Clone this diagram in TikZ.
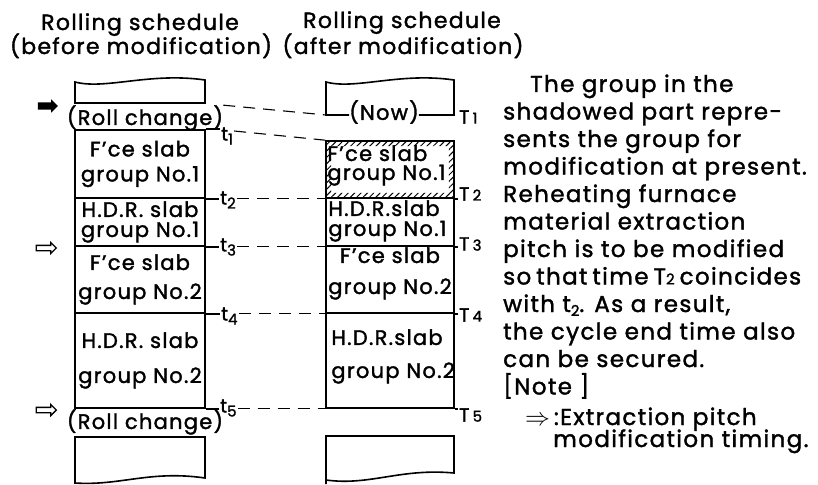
\documentclass[tikz,border=0pt]{standalone}
\usepackage{fontspec}
\setmainfont{Poppins}[LetterSpace=6,FakeBold=1.6]
\usepackage{tikz}
\usetikzlibrary{arrows.meta,positioning,calc,shapes.arrows,patterns.meta,backgrounds}

\newcommand{\headfont}{\fontsize{22}{26}\selectfont}
\newcommand{\slabfont}[1]{\fontsize{21}{#1}\selectfont}
\newcommand{\notefont}{\fontsize{23}{27}\selectfont}
\newcommand{\Tsub}[1]{{\fontsize{15}{15}\selectfont #1}}
\newcommand{\tsub}[1]{\raisebox{-4pt}{\fontsize{15}{15}\selectfont #1}}

\begin{document}
\begin{tikzpicture}[x=1pt,y=-1pt,>=Latex,
  box/.style={draw,line width=1.6pt},
  slabrow/.style={box,minimum width=130pt,inner sep=0pt},
  slabtxt/.style={align=center,inner sep=0pt,font=\slabfont{#1}},
  tlab/.style={anchor=west,inner sep=1pt,font=\fontsize{19}{19}\selectfont},
  link/.style={dash pattern=on 12pt off 8pt,line width=1.1pt},
  bodytxt/.style={anchor=base west,inner sep=0pt,font=\notefont},
  modarrow/.style={single arrow,minimum height=20pt,minimum width=0pt,
    single arrow head extend=3pt,inner xsep=0pt,inner ysep=3pt,line width=1.3pt}]
  \useasboundingbox (0,0) rectangle (818,484);

  % headings
  \node[font=\headfont,anchor=base] (headL1) at (140,30) {Rolling schedule};
  \node[font=\headfont,anchor=base] (headL2) at (141,54) {(before modification)};
  \node[font=\headfont,anchor=base] (headR1) at (402,28) {Rolling schedule};
  \node[font=\headfont,anchor=base] (headR2) at (403,54) {(after modification)};

  % schedule before modification
  \draw[box] (75,103) -- (75,82) .. controls (105,90) and (150,72) .. (205,80)
    -- (205,103) -- cycle;
  \node[font=\slabfont{22},inner sep=0pt] (rcA) at (145,118) {(Roll change)};
  \node[slabrow,minimum height=68pt] (f1L) at (140,164) {};
  \node[slabrow,minimum height=48pt] (h1L) at (140,222) {};
  \node[slabrow,minimum height=67pt] (f2L) at (140,279.5) {};
  \node[slabrow,minimum height=95pt] (h2L) at (140,360.5) {};
  \node[slabtxt=25] (f1Lt) at (f1L) {F’ce slab\\group No.1};
  \node[slabtxt=20] (h1Lt) at (h1L) {H.D.R. slab\\group No.1};
  \node[slabtxt=29] (f2Lt) at (f2L) {F’ce slab\\group No.2};
  \node[slabtxt=35] (h2Lt) at (h2L) {H.D.R. slab\\group No.2};
  \node[font=\slabfont{22},inner sep=0pt] (rcB) at (145,422) {(Roll change)};
  \draw[box] (75,437) -- (205,437) -- (205,478)
    .. controls (150,470) and (120,486) .. (75,483) -- cycle;

  % schedule after modification
  \coordinate (nowSW) at (326,115);
  \coordinate (nowSE) at (454,115);
  \node[font=\slabfont{20},inner sep=0pt] (now) at (384,112) {(Now)};
  \draw[box] (now.west |- nowSW) -- (nowSW) -- (326,82)
    .. controls (355,90) and (400,72) .. (454,80) -- (nowSE) -- (now.east |- nowSE);
  \node[slabrow,minimum width=128pt,minimum height=57pt] (f1R) at (390,169.5) {};
  \node[slabrow,minimum width=128pt,minimum height=48pt] (h1R) at (390,222) {};
  \node[slabrow,minimum width=128pt,minimum height=67pt] (f2R) at (390,279.5) {};
  \node[slabrow,minimum width=128pt,minimum height=95pt] (h2R) at (390,360.5) {};
  \begin{scope}[on background layer]
    \fill[pattern={Lines[angle=45,distance=4.5pt,line width=1pt]},even odd rule]
      (f1R.south west) rectangle (f1R.north east)
      ([shift={(6,-6)}]f1R.south west) rectangle ([shift={(-6,6)}]f1R.north east);
  \end{scope}
  \node[slabtxt=19,align=left,anchor=west] (f1Rt) at ([xshift=2pt,yshift=4pt]f1R.west) {F’ce slab\\group No.1};
  \node[slabtxt=20,align=left,anchor=west] (h1Rt) at ([xshift=3pt,yshift=1pt]h1R.west) {H.D.R.slab\\group No.1};
  \node[slabtxt=31] (f2Rt) at ([yshift=6pt]f2R.center) {F’ce slab\\group No.2};
  \node[slabtxt=33,align=left,anchor=west] (h2Rt) at ([xshift=6pt,yshift=4pt]h2R.west) {H.D.R.slab\\group No.2};
  \draw[box] (326,484) -- (326,436) -- (454,436) -- (454,473)
    .. controls (400,468) and (370,486) .. (326,480);

  % time marks
  \node[tlab] (t1) at (220,136) {t\tsub{1}};
  \node[tlab] (t2) at (219,200) {t\tsub{2}};
  \node[tlab] (t3) at (219,247) {t\tsub{3}};
  \node[tlab] (t4) at (220,316) {t\tsub{4}};
  \node[tlab] (t5) at (219,408) {t\tsub{5}};
  \node[tlab] (T1) at (458,117) {T\,\Tsub{1}};
  \node[tlab] (T2) at (458,194) {T\,\Tsub{2}};
  \node[tlab] (T3) at (458,244) {T\,\Tsub{3}};
  \node[tlab] (T4) at (458,315) {T\,\Tsub{4}};
  \node[tlab] (T5) at (458,415) {T\,\Tsub{5}};

  \draw[box] (f1L.north east) -- (f1L.north east -| t1.west);
  \draw[box] (f1L.south east) -- (f1L.south east -| t2.west);
  \draw[box] (h1L.south east) -- (h1L.south east -| t3.west);
  \draw[box] (f2L.south east) -- (f2L.south east -| t4.west);
  \draw[box] (h2L.south east) -- (h2L.south east -| t5.west);
  \draw[box] (f1R.south east) -- (f1R.south east -| T2.west);
  \draw[box] (h1R.south east) -- (h1R.south east -| T3.west);
  \draw[box] (f2R.south east) -- (f2R.south east -| T4.west);
  \draw[box] (h2R.south east) -- (h2R.south east -| T5.west);

  \draw[link] (rcA.north east) -- (nowSW);
  \draw[link] ([yshift=5pt]t1.east) -- (f1R.north west);
  \draw[link] (t2.east |- f1L.south) -- (f1R.south west);
  \draw[link] (t3.east |- h1L.south) -- (h1R.south west);
  \draw[link] (t4.east |- f2L.south) -- (f2R.south west);
  \draw[link] (t5.east |- h2L.south) -- (h2R.south west);

  % modification timing arrows
  \node[modarrow,fill=black] (modA) at (46,106) {};
  \node[modarrow,draw=black,inner ysep=2pt] (modB) at (45,248) {};
  \node[modarrow,draw=black,inner ysep=2pt] (modC) at (45,410) {};

  % explanation
  \foreach \txt [count=\i] in {
    {\hspace*{27pt}The group in the},
    {shadowed part repre-},
    {sents the group for},
    {modification at present.},
    {Reheating furnace},
    {material extraction},
    {pitch is to be modified},
    {\spaceskip=5pt so that time T\Tsub{2} coincides},
    {with t\tsub{2}. As a result,},
    {the cycle end time also},
    {can be secured.},
    {[Note ]}}
    \node[bodytxt] (para\i) at (503,{92+27.5*(\i-1)}) {\txt};
  \node[bodytxt] (key1) at (525,425) {$\Rightarrow$\,:Extraction pitch};
  \node[bodytxt] (key2) at (553,447) {modification timing.};
\end{tikzpicture}
\end{document}
